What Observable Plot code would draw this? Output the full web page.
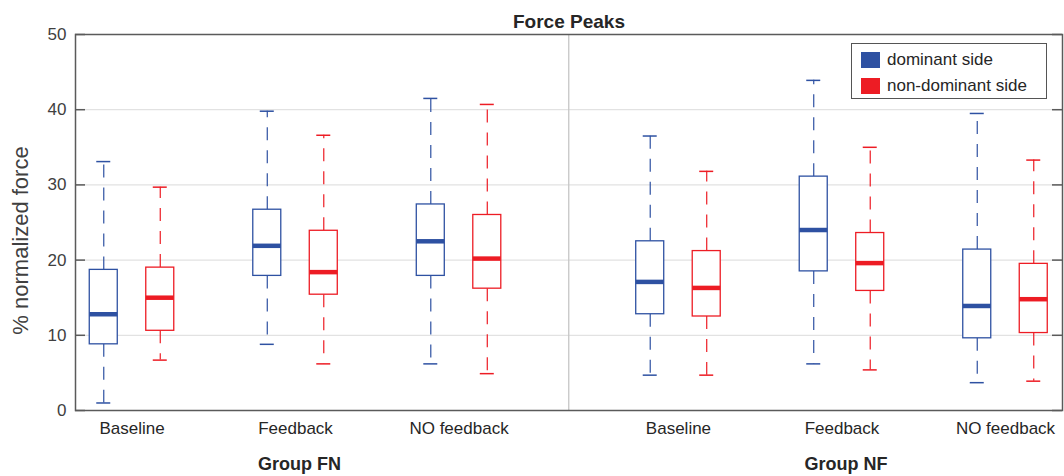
<!DOCTYPE html>
<html>
<head>
<meta charset="utf-8">
<script src="https://cdn.jsdelivr.net/npm/d3@7"></script>
<script src="https://cdn.jsdelivr.net/npm/@observablehq/plot@0.6"></script>
<style>
  body { margin: 0; background: #fff; font-family: "Liberation Sans", Arial, sans-serif; }
  #wrap { position: relative; width: 1064px; height: 476px; }
  #legend { position: absolute; left: 851px; top: 43px; width: 196px; height: 56px;
            border: 1px solid #555; background: #fff; box-sizing: border-box; }
  .item { position: absolute; left: 9px; font-size: 17px; color: #262626; line-height: 17px; }
  .sw { position: absolute; left: 0; top: 0; width: 19px; height: 16px; }
  .lab { position: absolute; left: 26px; top: -1px; white-space: nowrap; }
</style>
</head>
<body>
<div id="wrap"></div>
<script>
// ---- data ----
const title = "Force Peaks";
const yLabel = "% normalized force";
const groups = ["Group FN", "Group NF"];
const conditions = ["Baseline", "Feedback", "NO feedback"];
const sides = ["dominant side", "non-dominant side"];
const yTicks = [0, 10, 20, 30, 40, 50];

// order: FN-Baseline, FN-Feedback, FN-NO feedback, NF-Baseline, NF-Feedback, NF-NO feedback
const domLow    = [1.0,  8.8,  6.2,  4.7,  6.2,  3.7];
const domQ1     = [8.8, 17.9, 17.9, 12.8, 18.5,  9.6];
const domMedian = [12.8, 21.9, 22.5, 17.1, 24.0, 13.9];
const domQ3     = [18.7, 26.7, 27.4, 22.5, 31.1, 21.4];
const domHigh   = [33.1, 39.8, 41.5, 36.5, 43.9, 39.5];

const nonLow    = [6.7,  6.2,  4.9,  4.7,  5.4,  3.9];
const nonQ1     = [10.6, 15.4, 16.2, 12.5, 15.9, 10.3];
const nonMedian = [15.0, 18.4, 20.2, 16.3, 19.6, 14.8];
const nonQ3     = [19.0, 23.9, 26.0, 21.2, 23.6, 19.5];
const nonHigh   = [29.7, 36.6, 40.7, 31.8, 35.0, 33.3];

// ---- layout ----
const colors = ["#2e51a2", "#ed1c24"];
const W = 1064, H = 476;
const mL = 75, mR = 2, mT = 34, mB = 66;
const groupGap = 0.342;
const slotPos = d3.range(6).map(i => 1 + i + Math.floor(i / 3) * groupGap);
const xMin = slotPos[0] - 0.3456, xMax = slotPos[5] + 0.3486;
const pxu = (W - mL - mR) / (xMax - xMin);
const sideOff = 28.25 / pxu, boxHW = 14 / pxu, capHW = 7 / pxu, tickLen = 10 / pxu;
const sepPos = (slotPos[2] + slotPos[3]) / 2;

const stats = [
  [domLow, domQ1, domMedian, domQ3, domHigh],
  [nonLow, nonQ1, nonMedian, nonQ3, nonHigh]
];
const rows = [];
for (let s = 0; s < 2; s++) {
  for (let i = 0; i < 6; i++) {
    rows.push({
      side: sides[s],
      x: slotPos[i] + (s === 0 ? -sideOff : sideOff),
      low: stats[s][0][i], q1: stats[s][1][i], med: stats[s][2][i],
      q3: stats[s][3][i], high: stats[s][4][i]
    });
  }
}
const catRows = slotPos.map((p, i) => ({x: p, text: conditions[i % 3]}));
const grpRows = groups.map((g, k) => ({x: slotPos[k * 3 + 1], text: g}));

const color = {domain: sides, range: colors};

const chart = Plot.plot({
  width: W, height: H,
  marginLeft: mL, marginRight: mR, marginTop: mT, marginBottom: mB,
  style: {fontFamily: '"Liberation Sans", Arial, sans-serif', fontSize: "17px", color: "#404040", background: "#fff", overflow: "visible"},
  x: {domain: [xMin, xMax], axis: null},
  y: {domain: [0, 50], axis: null},
  color,
  marks: [
    Plot.ruleY([10, 20, 30, 40], {stroke: "#e2e2e2", strokeWidth: 1.3}),
    Plot.ruleX([sepPos], {stroke: "#c6c6c6", strokeWidth: 1.3}),
    // whiskers
    Plot.ruleX(rows, {x: "x", y1: "q3", y2: "high", stroke: "side", strokeWidth: 1.2, strokeDasharray: "13,10"}),
    Plot.ruleX(rows, {x: "x", y1: "q1", y2: "low", stroke: "side", strokeWidth: 1.2, strokeDasharray: "13,10"}),
    // caps
    Plot.ruleY(rows, {y: "high", x1: d => d.x - capHW, x2: d => d.x + capHW, stroke: "side", strokeWidth: 1.5}),
    Plot.ruleY(rows, {y: "low", x1: d => d.x - capHW, x2: d => d.x + capHW, stroke: "side", strokeWidth: 1.5}),
    // boxes
    Plot.rect(rows, {x1: d => d.x - boxHW, x2: d => d.x + boxHW, y1: "q1", y2: "q3", fill: "white", stroke: "side", strokeWidth: 1.3}),
    // medians
    Plot.ruleY(rows, {y: "med", x1: d => d.x - boxHW, x2: d => d.x + boxHW, stroke: "side", strokeWidth: 4.5}),
    // frame & inner ticks
    Plot.frame({stroke: "#5a5a5a", strokeWidth: 1.5}),
    Plot.ruleY(yTicks, {x1: xMin, x2: xMin + tickLen, stroke: "#5a5a5a", strokeWidth: 1.5}),
    Plot.ruleY(yTicks, {x1: xMax - tickLen, x2: xMax, stroke: "#5a5a5a", strokeWidth: 1.5}),
    // y tick labels
    Plot.text(yTicks, {y: d => d, text: d => String(d), frameAnchor: "left", textAnchor: "end", dx: -9, fill: "#404040", fontSize: 17}),
    // category labels
    Plot.text(catRows, {x: "x", text: "text", frameAnchor: "bottom", lineAnchor: "top", dy: 11, fill: "#262626", fontSize: 17}),
    // group labels
    Plot.text(grpRows, {x: "x", text: "text", frameAnchor: "bottom", lineAnchor: "top", dx: 4, dy: 47, fill: "#262626", fontSize: 18, fontWeight: "bold"}),
    // title
    Plot.text([title], {frameAnchor: "top", lineAnchor: "bottom", dy: -7, fill: "#262626", fontSize: 19, fontWeight: "bold"}),
    // y label
    Plot.text([yLabel], {frameAnchor: "left", textAnchor: "middle", rotate: -90, dx: -55, dy: 18, fill: "#404040", fontSize: 22})
  ]
});

const wrap = document.getElementById("wrap");
wrap.appendChild(chart);

// legend
const legend = document.createElement("div");
legend.id = "legend";
sides.forEach((s, i) => {
  const it = document.createElement("div");
  it.className = "item";
  it.style.top = (i === 0 ? 8 : 34) + "px";
  it.innerHTML = `<span class="sw" style="background:${colors[i]}"></span><span class="lab">${s}</span>`;
  legend.appendChild(it);
});
wrap.appendChild(legend);
</script>
</body>
</html>
